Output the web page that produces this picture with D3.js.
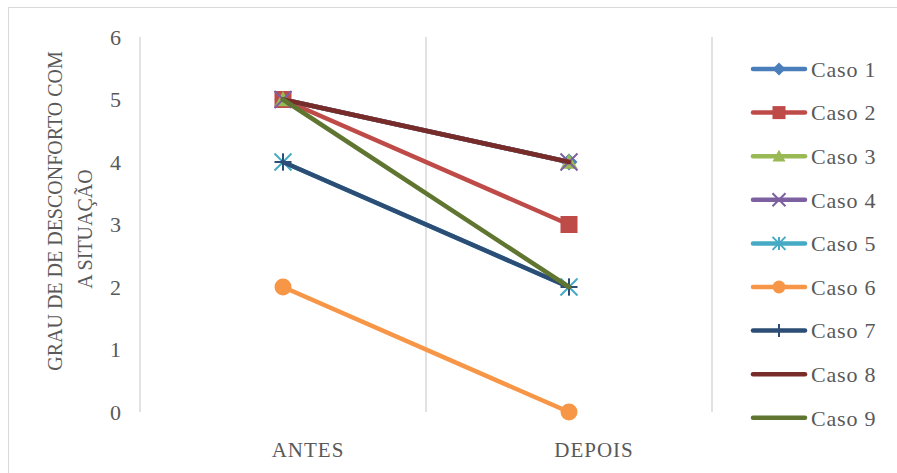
<!DOCTYPE html>
<html>
<head>
<meta charset="utf-8">
<script src="https://cdn.jsdelivr.net/npm/d3@7"></script>
<style>
  body { margin: 0; background: #fff; }
  svg text { font-family: "Liberation Serif", "DejaVu Serif", serif; fill: #595959; }
</style>
</head>
<body>
<div id="chart"></div>
<script>
const categories = ['ANTES', 'DEPOIS'];
const seriesNames = ['Caso 1', 'Caso 2', 'Caso 3', 'Caso 4', 'Caso 5', 'Caso 6', 'Caso 7', 'Caso 8', 'Caso 9'];
const seriesValues = [
    [5, 4],
    [5, 3],
    [5, 4],
    [5, 4],
    [4, 2],
    [2, 0],
    [4, 2],
    [5, 4],
    [5, 2]
];
const seriesColors = ['#4A7EBB', '#BE4B48', '#98B954', '#7D60A0', '#46AAC5', '#F79646', '#2C4D75', '#772C2A', '#5F7530'];
const seriesMarkers = ['diamond', 'square', 'triangle', 'x', 'star', 'circle', 'plus', 'none', 'none'];
const yTicks = [0, 1, 2, 3, 4, 5, 6];
const yTitle = ['GRAU DE DE DESCONFORTO COM', 'A SITUAÇÃO'];

const width = 897, height = 473;
const svg = d3.select('#chart').append('svg')
    .attr('width', width)
    .attr('height', height);

// chart border
svg.append('rect')
    .attr('x', 8.5).attr('y', 7.5)
    .attr('width', width).attr('height', height)
    .attr('fill', 'none')
    .attr('stroke', '#d9d9d9');

const x = d3.scaleBand().domain(categories).range([140, 712]);
const y = d3.scaleLinear().domain([0, 6]).range([412, 37]);

// vertical gridlines at category boundaries
const bounds = categories.map(c => x(c)).concat([x.range()[1]]);
svg.append('g').selectAll('line')
    .data(bounds)
    .enter().append('line')
    .attr('x1', d => d).attr('x2', d => d)
    .attr('y1', y(6)).attr('y2', y(0))
    .attr('stroke', '#d9d9d9')
    .attr('stroke-width', 1.5);

// y tick labels
svg.append('g').selectAll('text')
    .data(yTicks)
    .enter().append('text')
    .attr('x', 121)
    .attr('y', d => y(d))
    .attr('dy', '0.35em')
    .attr('text-anchor', 'end')
    .attr('font-size', 22)
    .text(d => d);

// x labels (Excel puts them a bit right of the point)
svg.append('g').selectAll('text')
    .data(categories)
    .enter().append('text')
    .attr('x', d => x(d) + x.bandwidth() / 2 + 25)
    .attr('y', 457)
    .attr('text-anchor', 'middle')
    .attr('font-size', 21)
    .attr('letter-spacing', 1)
    .text(d => d);

// y title
const titleCenters = [[62, 211], [92, 229]];
yTitle.forEach((t, i) => {
    svg.append('text')
        .attr('transform', `translate(${titleCenters[i][0]},${titleCenters[i][1]}) rotate(-90)`)
        .attr('text-anchor', 'middle')
        .attr('font-size', 20)
        .text(t);
});

const cx = c => x(c) + x.bandwidth() / 2;

function drawMarker(g, type, color, px, py, s) {
    const h = s / 2;
    if (type === 'none') return;
    if (type === 'square') {
        g.append('rect').attr('x', px - h).attr('y', py - h)
            .attr('width', s).attr('height', s).attr('fill', color);
    } else if (type === 'circle') {
        g.append('circle').attr('cx', px).attr('cy', py).attr('r', h).attr('fill', color);
    } else if (type === 'diamond') {
        g.append('path')
            .attr('d', `M${px},${py - h}L${px + h},${py}L${px},${py + h}L${px - h},${py}Z`)
            .attr('fill', color);
    } else if (type === 'triangle') {
        g.append('path')
            .attr('d', `M${px},${py - h}L${px + h},${py + h * 0.8}L${px - h},${py + h * 0.8}Z`)
            .attr('fill', color);
    } else if (type === 'x') {
        g.append('path')
            .attr('d', `M${px - h},${py - h}L${px + h},${py + h}M${px - h},${py + h}L${px + h},${py - h}`)
            .attr('stroke', color).attr('stroke-width', 2);
    } else if (type === 'plus') {
        g.append('path')
            .attr('d', `M${px - h},${py}L${px + h},${py}M${px},${py - h}L${px},${py + h}`)
            .attr('stroke', color).attr('stroke-width', 2);
    } else if (type === 'star') {
        g.append('path')
            .attr('d', `M${px - h},${py - h}L${px + h},${py + h}M${px - h},${py + h}L${px + h},${py - h}M${px},${py - h}L${px},${py + h}`)
            .attr('stroke', color).attr('stroke-width', 2);
    }
}

const line = d3.line()
    .x((d, i) => cx(categories[i]))
    .y(d => y(d));

seriesValues.forEach((vals, si) => {
    const g = svg.append('g');
    g.append('path')
        .attr('d', line(vals))
        .attr('fill', 'none')
        .attr('stroke', seriesColors[si])
        .attr('stroke-width', 4.5)
        .attr('stroke-linecap', 'round');
    vals.forEach((v, i) => {
        drawMarker(g, seriesMarkers[si], seriesColors[si], cx(categories[i]), y(v), 17);
    });
});

// legend
const legend = svg.append('g');
seriesNames.forEach((name, i) => {
    const ly = 69 + i * 43.6;
    const g = legend.append('g');
    g.append('line')
        .attr('x1', 753).attr('x2', 805)
        .attr('y1', ly).attr('y2', ly)
        .attr('stroke', seriesColors[i])
        .attr('stroke-width', 4.5)
        .attr('stroke-linecap', 'round');
    drawMarker(g, seriesMarkers[i], seriesColors[i], 779, ly, 13);
    g.append('text')
        .attr('x', 811)
        .attr('y', ly)
        .attr('dy', '0.35em')
        .attr('font-size', 22)
        .attr('letter-spacing', 0.8)
        .text(name);
});
</script>
</body>
</html>
